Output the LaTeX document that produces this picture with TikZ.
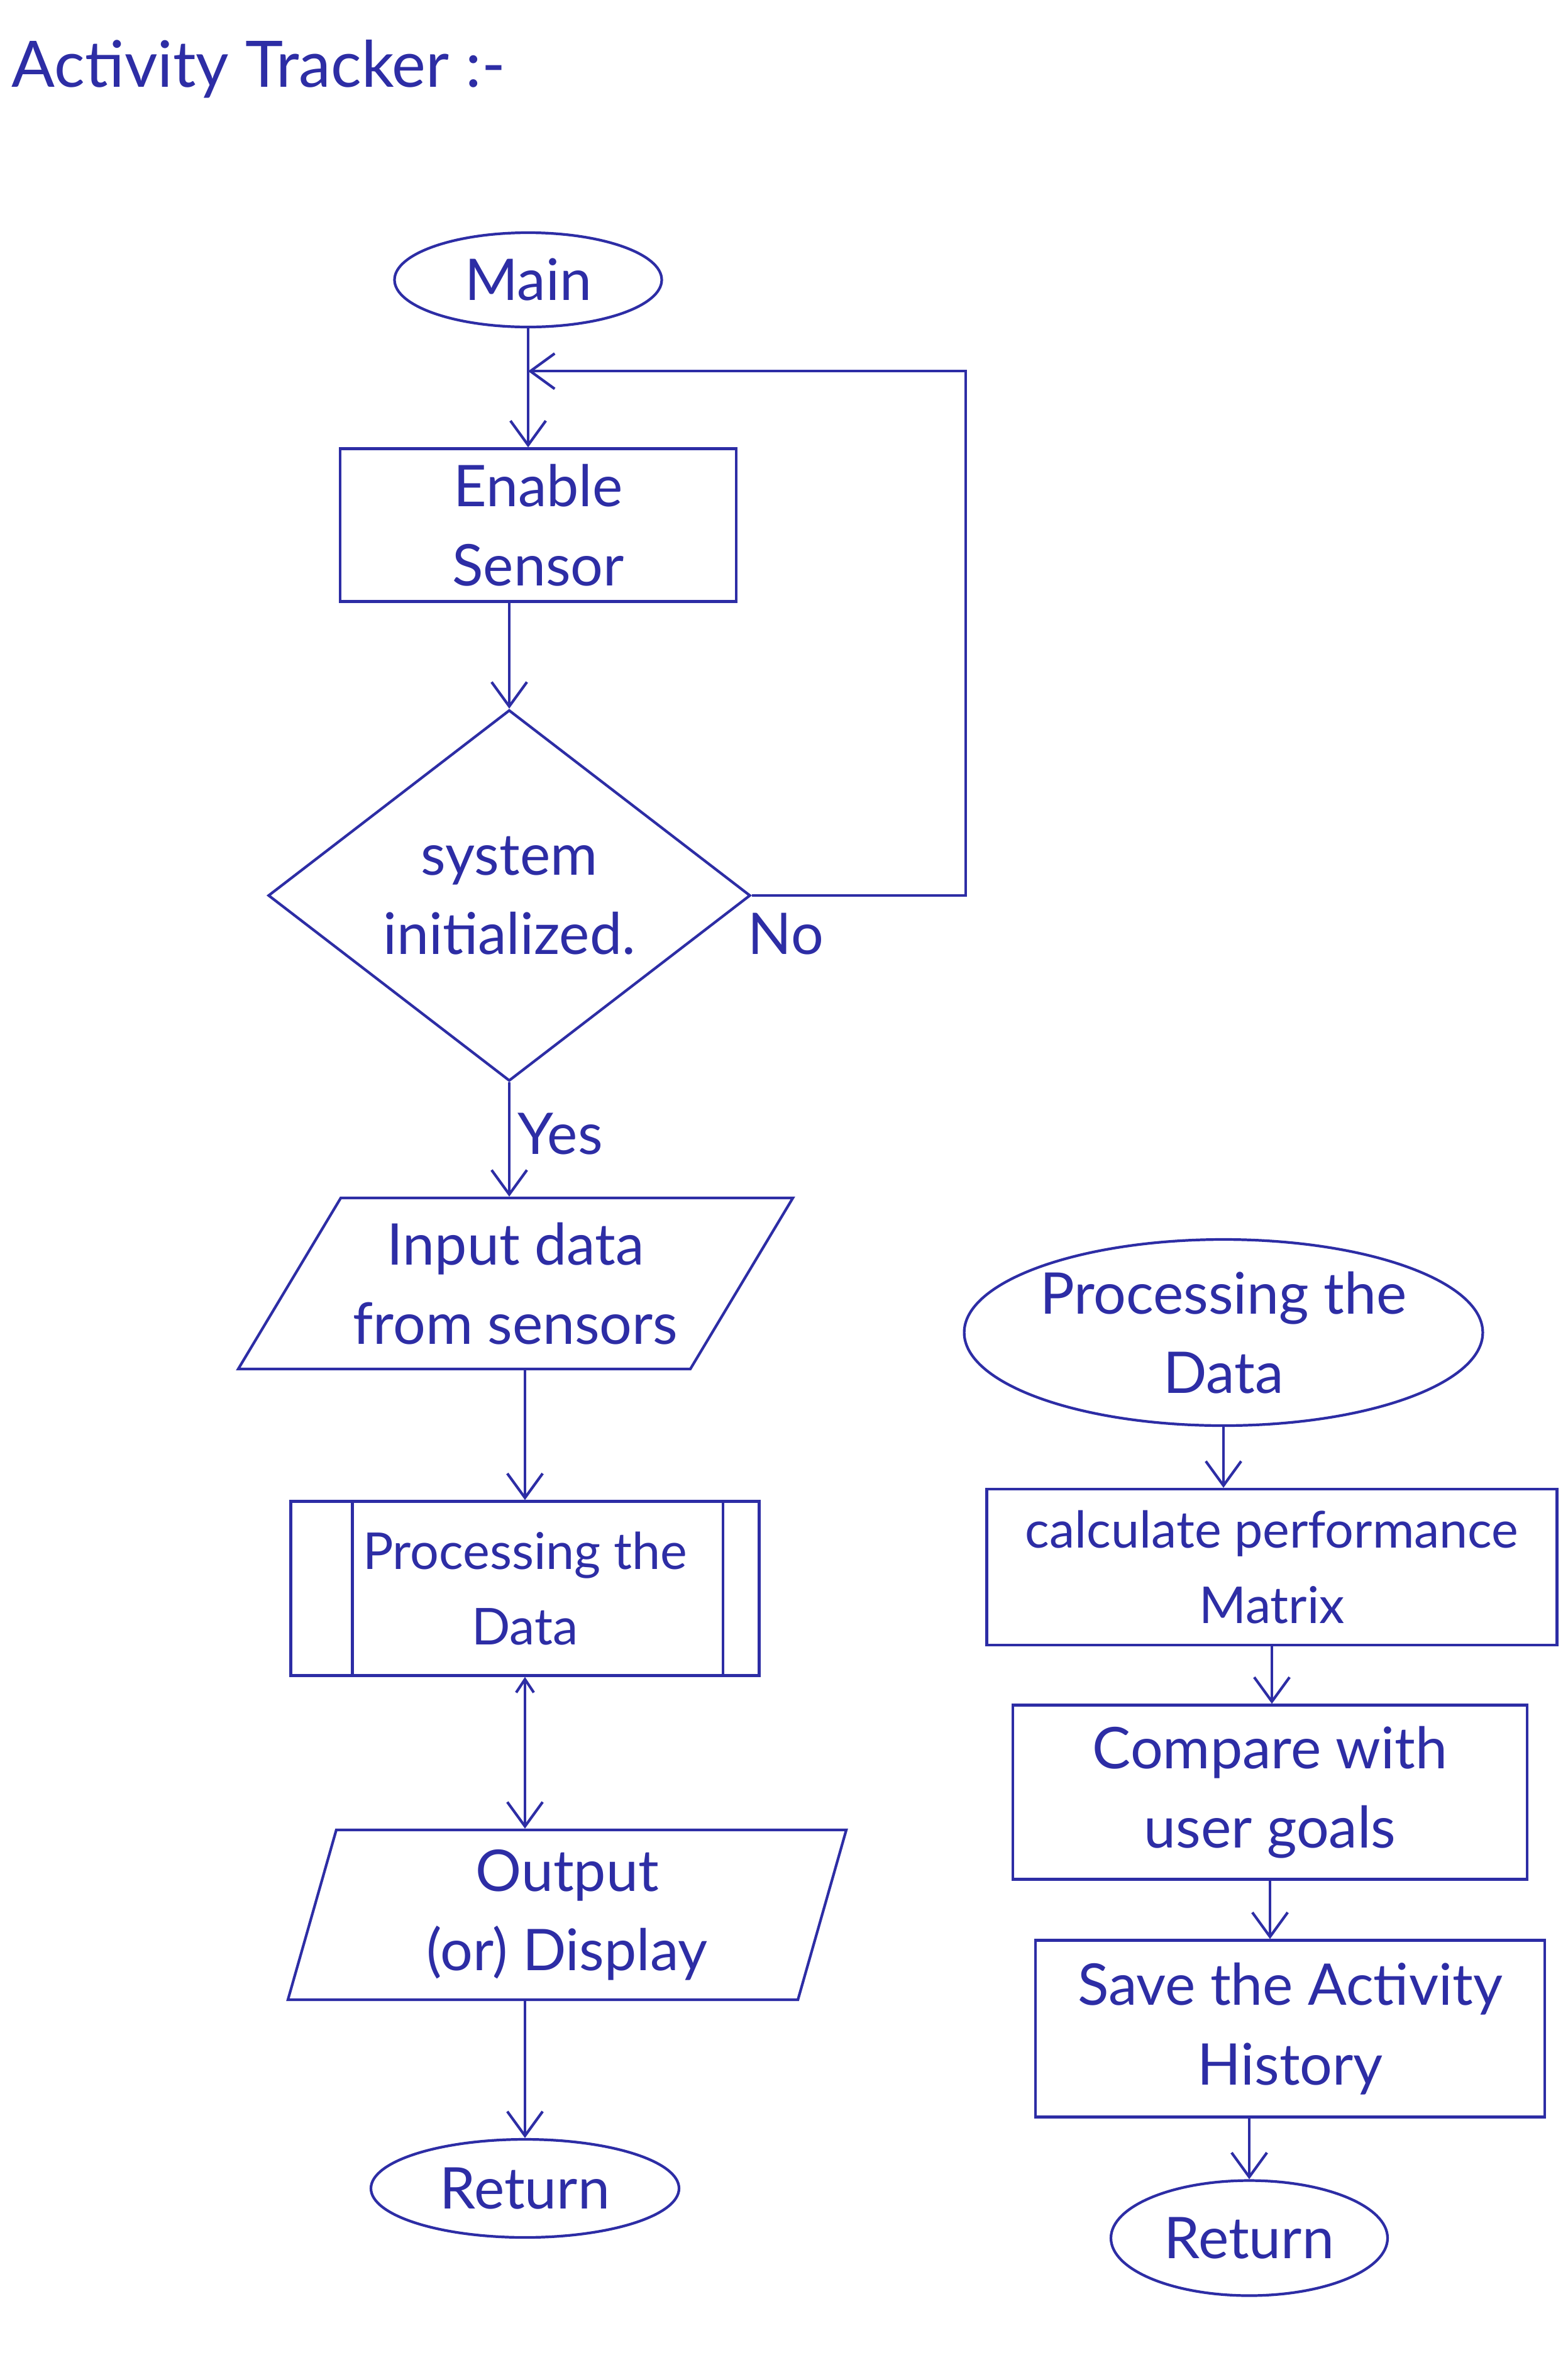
\documentclass[tikz,border=0pt]{standalone}
\usepackage{fontspec}
\setmainfont{Lato}
\usepackage{xcolor}
\usepackage{tikz}
\usetikzlibrary{positioning, calc, shapes.geometric, arrows.meta}
\definecolor{ink}{RGB}{45,45,165}

\begin{document}
\begin{tikzpicture}[ink, line width=1.2pt, font=\fontsize{26}{36}\selectfont]
	\tikzstyle{terminal}=[ellipse,draw,align=center,inner sep=0pt]
	\tikzstyle{process}=[rectangle,draw,align=center]
	\tikzstyle{decision}=[diamond,draw,align=center,inner sep=0pt]
	\tikzstyle{io}=[trapezium,trapezium stretches=true,draw,align=center]
	\tikzstyle{flow}=[-{Straight Barb[length=11pt,width=16pt]}]
	\tikzstyle{twoway}=[{Straight Barb[length=6pt,width=8pt]}-{Straight Barb[length=11pt,width=16pt]}]
	\useasboundingbox (0,0) rectangle (24.94,-37.72);
	\node[anchor=west,font=\fontsize{29}{34}\selectfont](title) at (0.05,-1.1){Activity Tracker :-};
	% main flow
	\node[terminal,minimum width=4.25cm,minimum height=1.5cm](main) at (8.4,-4.45){Main};
	\node[process,minimum width=6.3cm,minimum height=2.43cm](enable) at (8.56,-8.35){Enable\\Sensor};
	\node[decision,minimum width=7.67cm,minimum height=4.71cm](decide) at (8.1,-14.24){system\\initialized.};
	\node[io,trapezium left angle=54,trapezium right angle=126,minimum width=8.85cm,minimum height=2.72cm](input) at (8.2,-20.41){Input data\\from sensors};
	\node[process,minimum width=7.45cm,minimum height=2.77cm,font=\fontsize{23}{34}\selectfont](proc) at (8.35,-25.26){Processing the\\Data};
	\draw ([xshift=1.0cm]proc.north west) -- ([xshift=1.0cm]proc.south west);
	\draw ([xshift=-0.6cm]proc.north east) -- ([xshift=-0.6cm]proc.south east);
	\node[io,trapezium left angle=78,trapezium right angle=102,minimum width=8.9cm,minimum height=2.7cm](output) at (9.02,-30.45){Output\\(or) Display};
	\node[terminal,minimum width=4.9cm,minimum height=1.56cm](ret) at (8.35,-34.8){Return};
	\coordinate (join) at ($(main.south)!0.36!(main |- enable.north)$);
	\path[flow]
		(main) edge node {}(main |- enable.north)
		(decide |- enable.south) edge node {}(decide)
		(decide) edge node[right,pos=0.45] {Yes}(decide |- input.north)
		(proc |- input.south) edge node {}(proc)
		(ret |- output.south) edge node {}(ret);
	\path[twoway] (proc) edge node {}(proc |- output.north);
	\draw[flow] (decide.east) -- node[below,pos=0.16,yshift=-4pt] {No} ++(3.4,0) |- (join);
	% sub process
	\node[terminal,minimum width=6.69cm,minimum height=2.96cm](procsub) at (19.46,-21.19){Processing the\\Data};
	\node[process,minimum width=9.07cm,minimum height=2.48cm,font=\fontsize{23}{34}\selectfont](calc) at (20.23,-24.92){calculate performance\\Matrix};
	\node[process,minimum width=8.18cm,minimum height=2.77cm](compare) at (20.2,-28.5){Compare with\\user goals};
	\node[process,minimum width=8.1cm,minimum height=2.81cm](save) at (20.52,-32.26){Save the Activity\\History};
	\node[terminal,minimum width=4.4cm,minimum height=1.83cm](retsub) at (19.87,-35.59){Return};
	\path[flow]
		(procsub) edge node {}(procsub |- calc.north)
		(calc.south) edge node {}(calc.south |- compare.north)
		(compare.south) edge node {}(compare.south |- save.north)
		(retsub |- save.south) edge node {}(retsub);
\end{tikzpicture}
\end{document}
